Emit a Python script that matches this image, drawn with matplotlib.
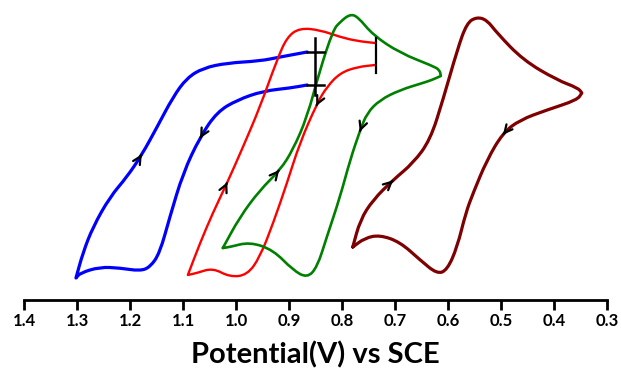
import numpy as np
import matplotlib
matplotlib.use("Agg")
import matplotlib.pyplot as plt
from matplotlib.path import Path
from matplotlib.patches import PathPatch

# cyclic voltammograms, potential (V vs SCE) and current (arbitrary units, no y axis shown)
# each list follows the scan direction

#blue: starts at the lower right end, ends at the upper right end
blue_V = [0.866, 0.898, 0.949, 0.998, 1.036, 1.068, 1.100, 1.125, 1.144, 1.162, 1.181, 1.219, 1.257, 1.294, 1.302,
          1.289, 1.270, 1.238, 1.206, 1.178, 1.149, 1.119, 1.093, 1.062, 1.017, 0.955, 0.917, 0.866]
blue_I = [215, 212, 209, 200, 188, 163, 127, 83, 47, 33, 29, 32, 33, 27, 22,
          47, 73, 103, 123, 145, 173, 203, 222, 232, 237, 239, 243, 248]

#red
red_V = [0.738, 0.772, 0.804, 0.829, 0.847, 0.880, 0.904, 0.930, 0.955, 0.979, 1.012, 1.044, 1.074, 1.091,
         1.068, 1.044, 1.017, 0.987, 0.955, 0.923, 0.904, 0.880, 0.842, 0.804, 0.772, 0.738]
red_I = [235, 233, 227, 213, 197, 157, 117, 77, 43, 25, 23, 32, 27, 25,
         57, 87, 117, 153, 193, 240, 263, 272, 270, 263, 259, 257]

#green (closed loop)
green_V = [1.025, 0.993, 0.955, 0.917, 0.893, 0.866, 0.842, 0.817, 0.804, 0.785, 0.770, 0.742, 0.691, 0.629,
           0.616, 0.614, 0.631, 0.648, 0.691, 0.729, 0.753, 0.766, 0.785, 0.804, 0.829, 0.847, 0.866, 0.893,
           0.930, 0.974, 1.012, 1.025]
green_I = [52, 83, 110, 130, 150, 183, 230, 270, 278, 286, 283, 265, 247, 234,
           230, 224, 220, 217, 210, 200, 187, 170, 140, 103, 63, 33, 22, 30,
           50, 58, 53, 52]

#maroon (closed loop)
maroon_V = [0.780, 0.766, 0.742, 0.704, 0.666, 0.634, 0.610, 0.583, 0.565, 0.546, 0.527, 0.508, 0.459, 0.395,
            0.355, 0.348, 0.357, 0.414, 0.465, 0.497, 0.527, 0.553, 0.567, 0.583, 0.602, 0.621, 0.653, 0.691,
            0.729, 0.757, 0.780]
maroon_I = [53, 80, 100, 120, 137, 160, 200, 250, 277, 283, 280, 267, 240, 220,
            212, 207, 200, 190, 180, 167, 140, 107, 87, 53, 30, 26, 40, 58,
            65, 62, 53]

# indices of the points that carry a direction arrow
blue_arrows = [5, 19]
red_arrows = [4, 16]
green_arrows = [3, 21]
maroon_arrows = [3, 19]

# sharp corners (kept unsmoothed)
blue_corners = [14]
red_corners = [13]
green_corners = [15]
maroon_corners = [15]

# black end markers
blue_bar_V = 0.851
blue_bar_I = [262, 205]
blue_tick_V = [0.866, 0.834]
blue_tick_I = [248, 215]
red_bar_V = 0.736
red_bar_I = [262, 227]

ticks = [1.4, 1.3, 1.2, 1.1, 1.0, 0.9, 0.8, 0.7, 0.6, 0.5, 0.4, 0.3]

plt.rcParams['font.family'] = ['Lato', 'DejaVu Sans']

fig = plt.figure(figsize=(6.21, 3.77), dpi=100)
ax = fig.add_axes([24/621, 77/377, 583.3/621, 300/377])

curves = [(blue_V, blue_I, blue_arrows, blue_corners, '#0000FF', 2.3),
          (red_V, red_I, red_arrows, red_corners, '#FF0000', 1.7),
          (green_V, green_I, green_arrows, green_corners, '#008000', 1.9),
          (maroon_V, maroon_I, maroon_arrows, maroon_corners, '#7F0000', 2.3)]

for V, I, arr, corners, col, lw in curves:
    P = np.column_stack([V, I]).astype(float)
    n = len(P)
    mids = 0.5*(P[:-1] + P[1:])
    #smooth the polyline with quadratic pieces through the midpoints
    verts = [P[0], mids[0]]
    codes = [Path.MOVETO, Path.LINETO]
    for i in range(1, n-1):
        if i in corners:
            verts += [P[i], mids[i]]
            codes += [Path.LINETO, Path.LINETO]
        else:
            verts += [P[i], mids[i]]
            codes += [Path.CURVE3, Path.CURVE3]
    verts.append(P[-1])
    codes.append(Path.LINETO)
    ax.add_patch(PathPatch(Path(verts, codes), fill=False, edgecolor=col, lw=lw,
                           joinstyle='round', capstyle='round'))
    for i in arr:
        tip = 0.25*mids[i-1] + 0.5*P[i] + 0.25*mids[i]
        tail = tip - 0.03*(mids[i] - mids[i-1])
        ax.annotate('', xy=tip, xytext=tail,
                    arrowprops=dict(arrowstyle='->', color='k', lw=1.6, mutation_scale=14,
                                    shrinkA=0, shrinkB=0))

#end markers
ax.plot([blue_bar_V, blue_bar_V], blue_bar_I, color='k', lw=1.8)
for y in blue_tick_I:
    ax.plot(blue_tick_V, [y, y], color='k', lw=1.8)
ax.plot([red_bar_V, red_bar_V], red_bar_I, color='k', lw=1.6)

ax.set_xlim(1.4, 0.3)
ax.set_ylim(0, 300)
for s in ['left', 'right', 'top']:
    ax.spines[s].set_visible(False)
ax.spines['bottom'].set_linewidth(2.0)
ax.set_yticks([])
ax.set_xticks(ticks)
ax.set_xticklabels(['%.1f' % t for t in ticks], fontsize=12, fontweight='bold')
ax.tick_params(axis='x', direction='out', length=7.2, width=2.0, pad=2)
ax.set_xlabel('Potential(V) vs SCE', fontsize=21, fontweight='bold', labelpad=9)
ax.patch.set_visible(False)

plt.savefig('out.png', dpi=100)
